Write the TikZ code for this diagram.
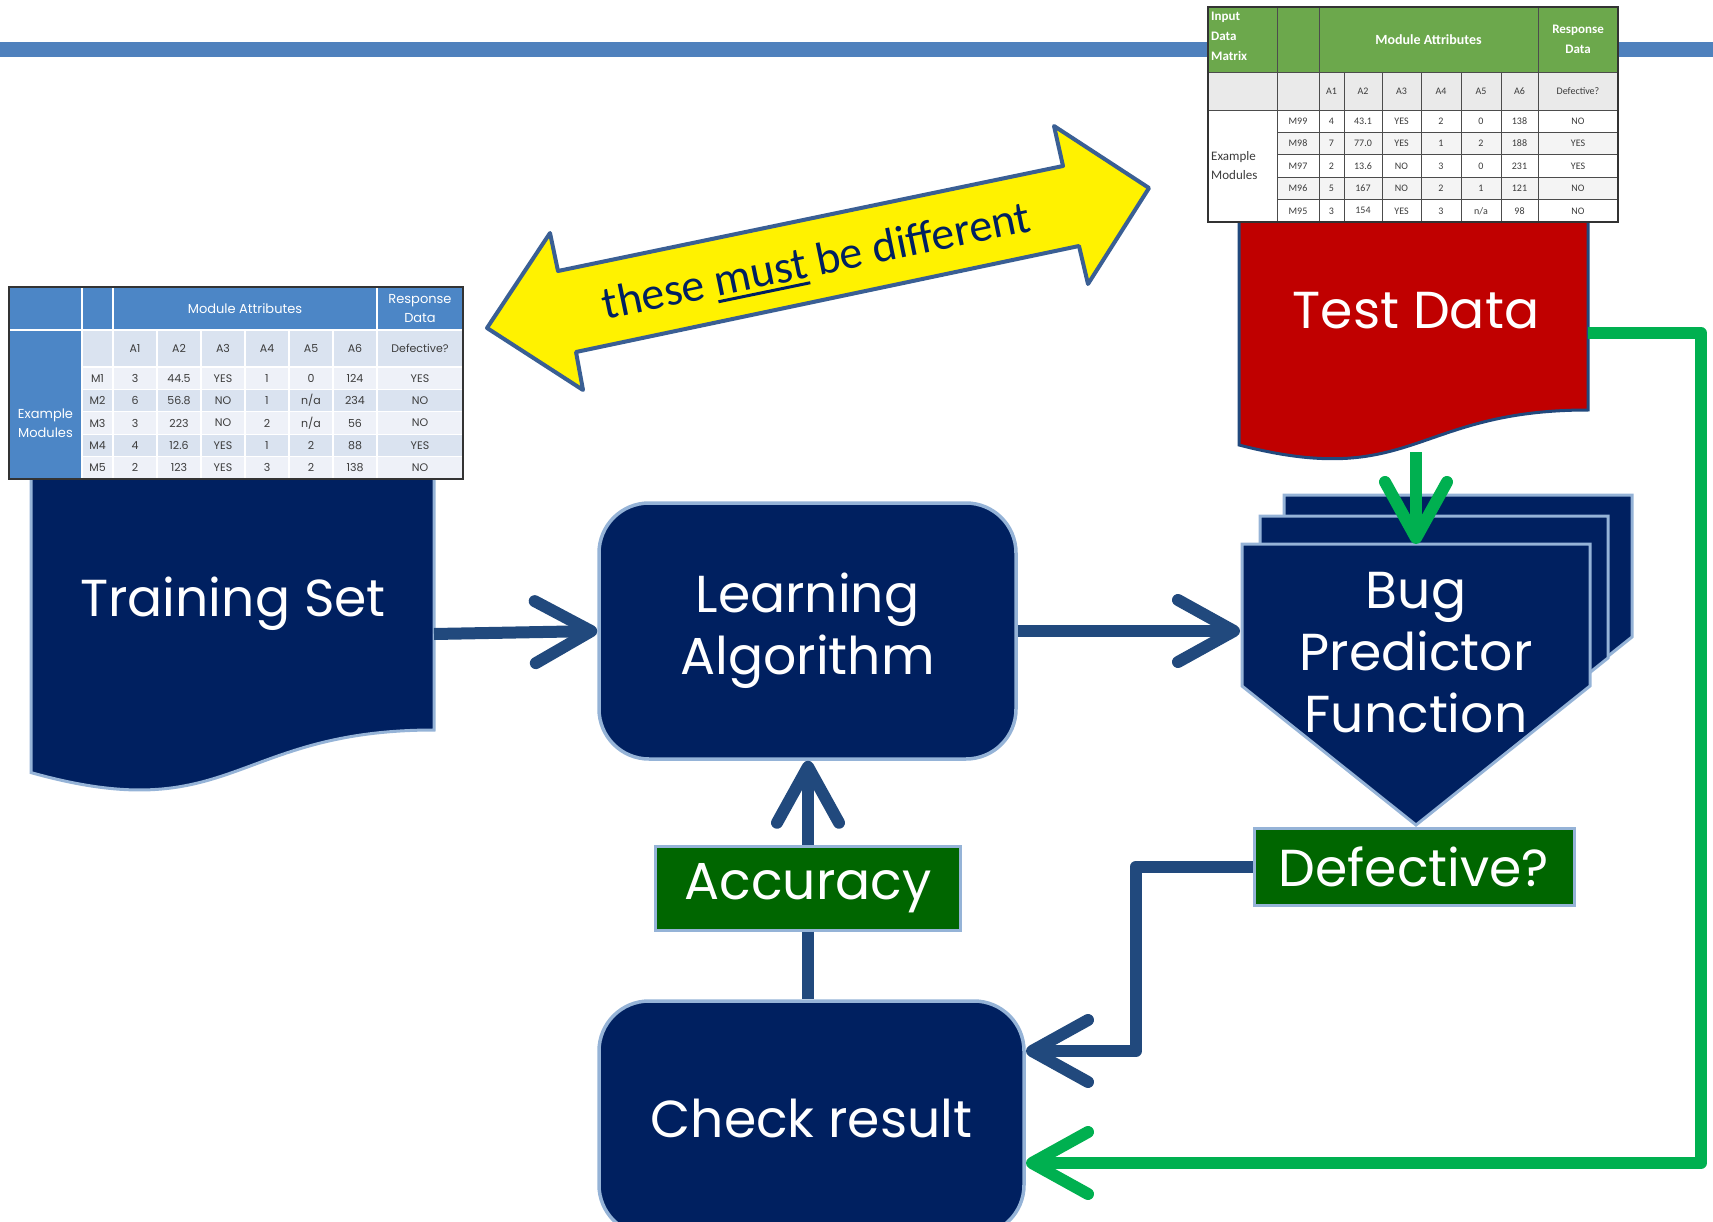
\documentclass[tikz,border=0pt]{standalone}
\usepackage{fontspec}
\setmainfont{Poppins}
\newfontfamily\calib{Carlito}
\usetikzlibrary{arrows.meta}
\definecolor{navy}{RGB}{0,32,96}
\definecolor{lborder}{RGB}{149,179,215}
\definecolor{conblue}{RGB}{33,73,125}
\definecolor{congreen}{RGB}{0,176,80}
\definecolor{boxgreen}{RGB}{0,102,0}
\definecolor{docred}{RGB}{192,0,0}
\definecolor{topline}{RGB}{79,129,189}
\definecolor{yborder}{RGB}{58,95,148}
\definecolor{thead}{RGB}{76,134,198}
\definecolor{tlight}{RGB}{218,227,240}
\definecolor{tlighter}{RGB}{238,241,248}
\definecolor{gthead}{RGB}{108,168,76}
\definecolor{ggray}{RGB}{234,234,234}
\definecolor{growfill}{RGB}{244,244,244}
\definecolor{txtgray}{RGB}{60,60,60}
\newcommand{\myul}[1]{\setbox0\hbox{#1}\rlap{\rule[-7pt]{\wd0}{3pt}}\box0\relax}
\tikzset{
  big/.style={font=\fontsize{52}{62}\selectfont, text=white, align=center},
  rbox/.style={draw=lborder, line width=3.5pt, fill=navy, rounded corners=50pt, big, inner sep=0pt},
  gbox/.style={draw=lborder, line width=3pt, fill=boxgreen, big, inner sep=0pt},
  tipbarb/.style={-{Straight Barb[length=56pt,width=62pt,round]}},
  conn/.style={draw=conblue, line width=12pt, line join=round, tipbarb},
  connplain/.style={draw=conblue, line width=12pt},
  conng/.style={draw=congreen, line width=12pt, line join=round, tipbarb},
  bt/.style={font=\fontsize{11}{12}\selectfont, text=txtgray, inner sep=0pt},
  bth/.style={font=\fontsize{13}{19}\selectfont, text=white, align=center, inner sep=0pt},
  gt/.style={font=\calib\fontsize{10}{11}\selectfont, text=txtgray, inner sep=0pt},
  gth/.style={font=\calib\bfseries\fontsize{13}{20}\selectfont, text=white, align=center, inner sep=0pt},
  docshape/.style={line width=3pt},
  penta/.style={fill=navy, draw=lborder, line width=3pt, line join=miter}
}
\begin{document}
\begin{tikzpicture}[x=1pt,y=-1pt]
\useasboundingbox (0,0) rectangle (1713,1222);
% top line
\fill[topline] (0,42) rectangle (1713,57);
% yellow double arrow
\draw[fill=yellow, draw=yborder, line width=4pt, line join=round]
  (487,328) -- (550,233) -- (558,271) -- (1063,166) -- (1054,126) -- (1149,188)
  -- (1088,284) -- (1079,246) -- (576,352) -- (583,390) -- cycle;
\node[rotate=11.7, font=\calib\fontsize{46}{50}\selectfont, text=navy, inner sep=0pt] (diff) at (817,263) {these \myul{must} be different};
% training set document
\draw[docshape, fill=navy, draw=lborder] (31,470) -- (434,470) -- (434,730)
  .. controls (232.5,730) and (232.5,829) .. (31,772.6) -- cycle;
\node[big] (train) at (233,604) {Training Set};
\coordinate (trainE) at (434,634);
% blue table
\fill[thead] (9,287) rectangle (463,330);
\fill[thead] (9,330) rectangle (82,479);
\fill[tlight] (82,330) rectangle (463,367);
\foreach \k/\cl in {0/tlighter,1/tlight,2/tlighter,3/tlight,4/tlighter}{
  \fill[fill=\cl] (82,{367+22.4*\k}) rectangle (463,{389.4+22.4*\k});
}
\foreach \x in {157,201,245,289,333}{ \draw[white, line width=1.2pt] (\x,330) -- (\x,479); }
\foreach \x in {82,113,377}{ \draw[white, line width=1.2pt] (\x,287) -- (\x,479); }
\draw[white, line width=1.2pt] (9,330) -- (463,330);
\foreach \k in {0,1,2,3,4}{ \draw[white, line width=1.2pt] (82,{367+22.4*\k}) -- (463,{367+22.4*\k}); }
\draw[line width=2pt, black!80] (9,287) rectangle (463,479);
\node[bth] (bModAttr) at (245,308.5) {Module Attributes};
\node[bth] (bResp) at (420,308.5) {Response\\Data};
\node[bth] (bExMod) at (45.5,423.5) {Example\\Modules};
\foreach \x/\t/\n in {135/A1/1,179/A2/2,223/A3/3,267/A4/4,311/A5/5,355/A6/6,420/Defective?/7}{
  \node[bt] (bh\n) at (\x,348.5) {\t};
}
\foreach \k/\xm/\xa/\xb/\xc/\xd/\xe/\xf/\xg in {0/M1/3/44.5/YES/1/0/124/YES,1/M2/6/56.8/NO/1/{n/a}/234/NO,2/M3/3/223/NO/2/{n/a}/56/NO,3/M4/4/12.6/YES/1/2/88/YES,4/M5/2/123/YES/3/2/138/NO}{
  \pgfmathsetmacro\yy{378.2+22.4*\k}
  \node[bt] (bm\k) at (97.5,\yy) {\xm};
  \node[bt] (ba\k) at (135,\yy) {\xa};
  \node[bt] (bb\k) at (179,\yy) {\xb};
  \node[bt] (bc\k) at (223,\yy) {\xc};
  \node[bt] (bd\k) at (267,\yy) {\xd};
  \node[bt] (be\k) at (311,\yy) {\xe};
  \node[bt] (bf\k) at (355,\yy) {\xf};
  \node[bt] (bg\k) at (420,\yy) {\xg};
}
% test data document
\draw[docshape, fill=docred, draw=conblue] (1239,200) -- (1588,200) -- (1588,410)
  .. controls (1413.5,410) and (1413.5,490) .. (1239,445) -- cycle;
\node[big] (test) at (1416,311) {Test Data};
\coordinate (testS) at (1416,452);
\coordinate (testE) at (1588,333);
% green table
\fill[gthead] (1208,7) rectangle (1618,72);
\fill[ggray] (1208,72) rectangle (1618,110);
\fill[white] (1208,110) rectangle (1618,222);
\foreach \k/\cl in {0/white,1/growfill,2/white,3/growfill,4/white}{
  \fill[fill=\cl] (1277,{110+22.4*\k}) rectangle (1618,{132.4+22.4*\k});
}
\foreach \x in {1277,1319,1538}{ \draw[black!70, line width=0.8pt] (\x,7) -- (\x,222); }
\foreach \x in {1344,1382,1421,1461,1501}{ \draw[black!70, line width=0.8pt] (\x,72) -- (\x,222); }
\draw[black!70, line width=0.8pt] (1208,72) -- (1618,72);
\draw[black!70, line width=0.8pt] (1208,110) -- (1618,110);
\foreach \k in {1,2,3,4}{ \draw[black!70, line width=0.8pt] (1277,{110+22.4*\k}) -- (1618,{110+22.4*\k}); }
\draw[line width=1.6pt, black!80] (1208,7) rectangle (1618,222);
\node[gth, align=left, anchor=north west] (gInput) at (1211,12) {Input\\Data\\Matrix};
\node[gth, font=\calib\bfseries\fontsize{14}{20}\selectfont] (gModAttr) at (1428.5,39.5) {Module Attributes};
\node[gth] (gResp) at (1578,39.5) {Response\\Data};
\node[gt, font=\calib\fontsize{13}{19}\selectfont, align=left, anchor=west] (gExMod) at (1211,166) {Example\\Modules};
\foreach \x/\t/\n in {1331.5/A1/1,1363/A2/2,1401.5/A3/3,1441/A4/4,1481/A5/5,1519.5/A6/6,1578/Defective?/7}{
  \node[gt] (gh\n) at (\x,91) {\t};
}
\foreach \k/\xm/\xa/\xb/\xc/\xd/\xe/\xf/\xg in {0/M99/4/43.1/YES/2/0/138/NO,1/M98/7/77.0/YES/1/2/188/YES,2/M97/2/13.6/NO/3/0/231/YES,3/M96/5/167/NO/2/1/121/NO,4/M95/3/154/YES/3/{n/a}/98/NO}{
  \pgfmathsetmacro\yy{121.2+22.4*\k}
  \node[gt] (gm\k) at (1298,\yy) {\xm};
  \node[gt] (ga\k) at (1331.5,\yy) {\xa};
  \node[gt] (gb\k) at (1363,\yy) {\xb};
  \node[gt] (gc\k) at (1401.5,\yy) {\xc};
  \node[gt] (gd\k) at (1441,\yy) {\xd};
  \node[gt] (ge\k) at (1481,\yy) {\xe};
  \node[gt] (gf\k) at (1519.5,\yy) {\xf};
  \node[gt] (gg\k) at (1578,\yy) {\xg};
}
% learning algorithm
\node[rbox, minimum width=417pt, minimum height=256pt] (learn) at (807.5,631) {Learning\\Algorithm};
% bug predictor stack
\draw[penta] (1284,495) -- (1632,495) -- (1632,637) -- (1458,776) -- (1284,637) -- cycle;
\draw[penta] (1260,516) -- (1608,516) -- (1608,658) -- (1434,797) -- (1260,658) -- cycle;
\draw[penta] (1242,544) -- (1590,544) -- (1590,686) -- (1416,825) -- (1242,686) -- cycle;
\node[big] (bug) at (1416,653) {Bug\\Predictor\\Function};
\coordinate (bugW) at (1240,631);
\coordinate (bugN) at (1416,544);
% defective, accuracy
\node[gbox, minimum width=320pt, minimum height=77pt] (def) at (1414,866.5) {Defective?};
\node[gbox, minimum width=305pt, minimum height=84pt] (acc) at (808,888) {Accuracy};
% check result
\node[rbox, minimum width=425pt, minimum height=234pt] (check) at (811.5,1118) {Check result};
\coordinate (chkA) at (1026,1051);
\coordinate (chkB) at (1026,1163);
% connectors
\draw[conn] (trainE) -- (learn.west);
\draw[conn] (learn.east) -- (bugW);
\draw[conn] (acc.north) -- (acc.north |- learn.south);
\draw[connplain] (acc.south) -- (acc.south |- check.north);
\draw[conn] (def.west) -| ([xshift=110pt]chkA) -- (chkA);
\draw[conng] (testS) -- (bugN);
\draw[conng] (testE) -| ([xshift=675pt]chkB) -- (chkB);
\end{tikzpicture}
\end{document}
